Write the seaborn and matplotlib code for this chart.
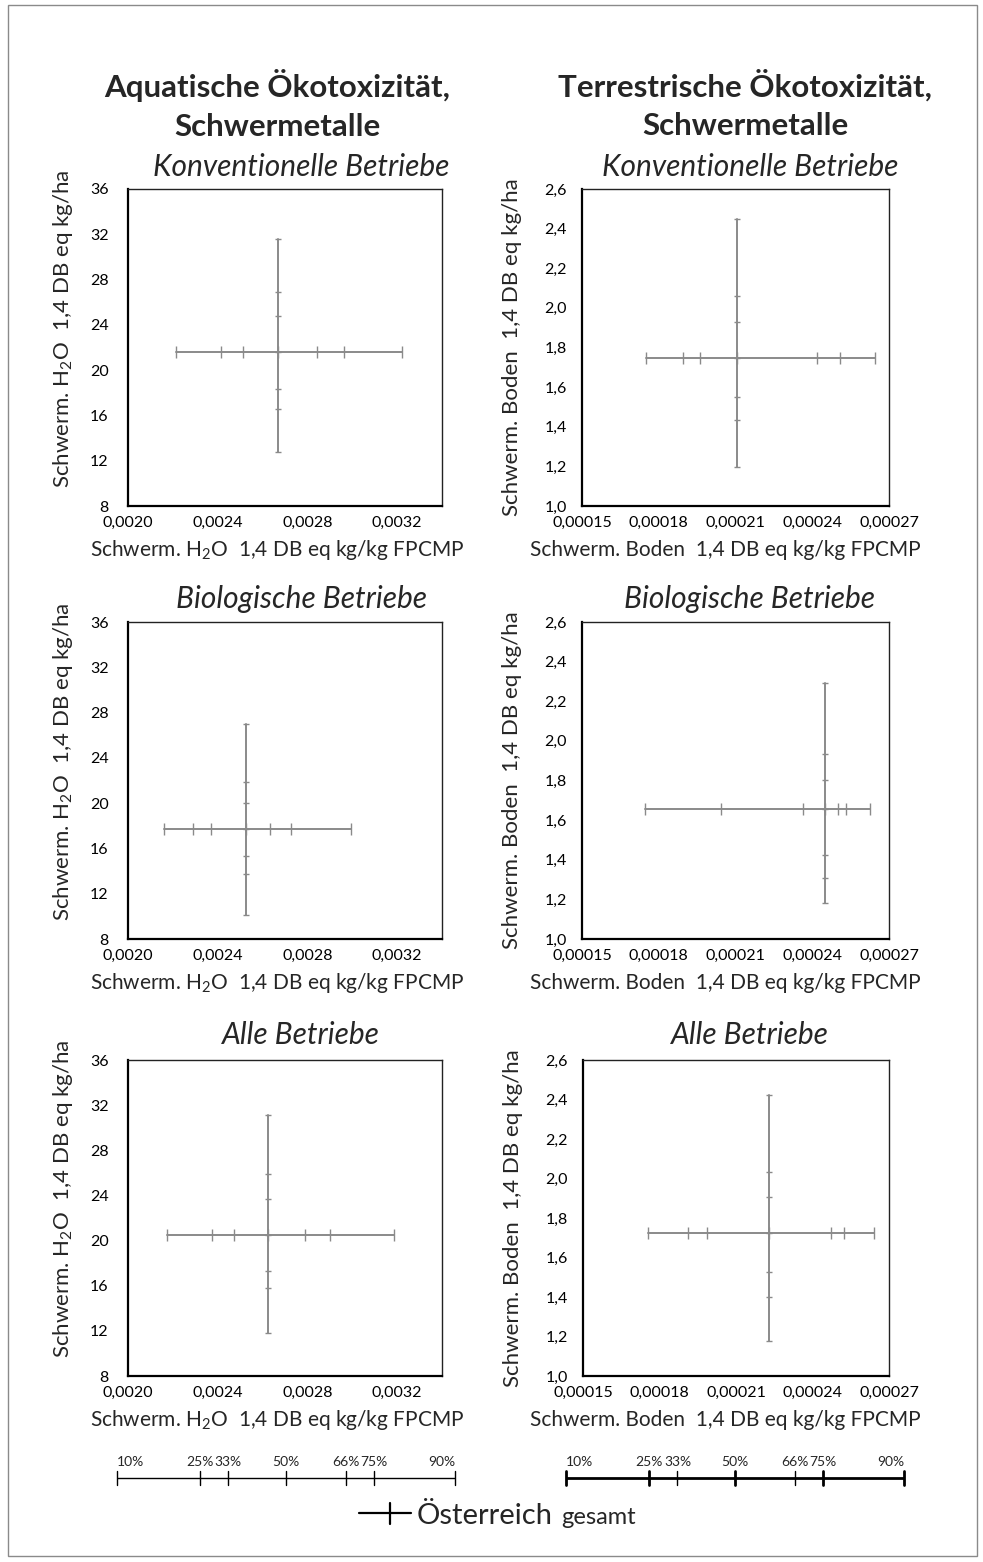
import matplotlib
matplotlib.use('Agg')
from matplotlib import pyplot as plt
from matplotlib.patches import Rectangle
from matplotlib.lines import Line2D
from matplotlib.ticker import FixedLocator, FuncFormatter
import seaborn as sns

# Percentiles shown on each cross (10% ... 90%), the 4th value is the median / centre
pct_labels = ['10%', '25%', '33%', '50%', '66%', '75%', '90%']

# Aquatische Oekotoxizitaet (x: kg/kg FPCMP, y: kg/ha)
aq_konv_x = [0.002213, 0.002413, 0.002512, 0.002670, 0.002842, 0.002961, 0.003221]
aq_konv_y = [12.8, 16.6, 18.3, 21.6, 24.8, 26.9, 31.6]
aq_bio_x = [0.002161, 0.002292, 0.002369, 0.002525, 0.002633, 0.002726, 0.002994]
aq_bio_y = [10.1, 13.7, 15.3, 17.7, 20.0, 21.9, 27.0]
aq_alle_x = [0.002173, 0.002374, 0.002472, 0.002622, 0.002789, 0.002900, 0.003184]
aq_alle_y = [11.8, 15.8, 17.3, 20.5, 23.7, 25.9, 31.1]

# Terrestrische Oekotoxizitaet
te_konv_x = [0.0001752, 0.0001893, 0.0001962, 0.0002107, 0.0002418, 0.0002508, 0.0002645]
te_konv_y = [1.199, 1.434, 1.552, 1.748, 1.931, 2.062, 2.449]
te_bio_x = [0.0001748, 0.0002044, 0.0002365, 0.0002449, 0.0002501, 0.0002531, 0.0002625]
te_bio_y = [1.180, 1.309, 1.424, 1.657, 1.805, 1.933, 2.292]
te_alle_x = [0.0001755, 0.0001913, 0.0001987, 0.0002228, 0.0002474, 0.0002522, 0.0002641]
te_alle_y = [1.177, 1.400, 1.525, 1.726, 1.906, 2.034, 2.421]

# Axis ticks
aq_xticks = [0.0020, 0.0024, 0.0028, 0.0032]
aq_yticks = [8, 12, 16, 20, 24, 28, 32, 36]
te_xticks = [0.00015, 0.00018, 0.00021, 0.00024, 0.00027]
te_yticks = [1.0, 1.2, 1.4, 1.6, 1.8, 2.0, 2.2, 2.4, 2.6]

# Relative positions of the percentiles on the key scale
scale_pos = [0.0, 0.245, 0.33, 0.50, 0.678, 0.76, 1.0]

titles = ['Aquatische Ökotoxizität,\nSchwermetalle', 'Terrestrische Ökotoxizität,\nSchwermetalle']
subtitles = ['Konventionelle Betriebe', 'Biologische Betriebe', 'Alle Betriebe']

sns.set_style('white')
plt.rcParams['font.family'] = ['Lato', 'DejaVu Sans']
plt.rcParams['mathtext.fontset'] = 'custom'
plt.rcParams['mathtext.rm'] = 'Lato'

W, H = 983, 1562
GREY = '#8a8a8a'


def px_rect(l, t, r, b):
    return [l / W, 1 - b / H, (r - l) / W, (b - t) / H]


def draw_cross(ax, xs, ys):
    xc, yc = xs[3], ys[3]
    sns.lineplot(x=xs, y=[yc] * len(xs), ax=ax, color=GREY, lw=1.4, marker='|',
                 markersize=8, mew=1.0, mec=GREY, estimator=None, sort=False)
    sns.lineplot(x=[xc] * len(ys), y=ys, ax=ax, color=GREY, lw=1.4, marker='_',
                 markersize=5, mew=1.0, mec=GREY, estimator=None, sort=False)


def style_axes(ax, aquatic):
    if aquatic:
        ax.set_xlim(0.0020, 0.0034)
        ax.set_ylim(8, 36)
        ax.xaxis.set_major_locator(FixedLocator(aq_xticks))
        ax.yaxis.set_major_locator(FixedLocator(aq_yticks))
        ax.xaxis.set_major_formatter(FuncFormatter(lambda v, p: f'{v:.4f}'.replace('.', ',')))
        ax.yaxis.set_major_formatter(FuncFormatter(lambda v, p: f'{v:.0f}'))
        ax.set_xlabel('Schwerm. H$_2$O  1,4 DB eq kg/kg FPCMP', fontsize=15, va='center')
        ax.set_ylabel('Schwerm. H$_2$O  1,4 DB eq kg/ha', fontsize=16, va='center')
        ax.xaxis.set_label_coords(0.475, -0.139)
        ax.yaxis.set_label_coords(-0.207, 0.56)
        ypad = 14
    else:
        ax.set_xlim(0.00015, 0.00027)
        ax.set_ylim(1.0, 2.6)
        ax.xaxis.set_major_locator(FixedLocator(te_xticks))
        ax.yaxis.set_major_locator(FixedLocator(te_yticks))
        ax.xaxis.set_major_formatter(FuncFormatter(lambda v, p: f'{v:.5f}'.replace('.', ',')))
        ax.yaxis.set_major_formatter(FuncFormatter(lambda v, p: f'{v:.1f}'.replace('.', ',')))
        ax.set_xlabel('Schwerm. Boden  1,4 DB eq kg/kg FPCMP', fontsize=15, va='center')
        ax.set_ylabel('Schwerm. Boden  1,4 DB eq kg/ha', fontsize=16, va='center')
        ax.xaxis.set_label_coords(0.466, -0.139)
        ax.yaxis.set_label_coords(-0.228, 0.5)
        ypad = 11
    ax.tick_params(axis='both', length=0, labelsize=11.5, colors='black')
    ax.tick_params(axis='x', pad=7)
    ax.tick_params(axis='y', pad=ypad)
    for side in ['left', 'bottom']:
        ax.spines[side].set_linewidth(1.6)
        ax.spines[side].set_color('black')
    for side in ['top', 'right']:
        ax.spines[side].set_linewidth(1.0)
        ax.spines[side].set_color('#222222')
    ax.grid(False)


fig = plt.figure(figsize=(W / 100, H / 100), dpi=100)

# Outer frame
fig.add_artist(Rectangle((8 / W, 1 - 1556 / H), 969 / W, 1551 / H, transform=fig.transFigure,
                         fill=False, edgecolor='#8a8a8a', lw=1.0))

boxes_left = [(128, 189, 442, 506), (128, 622, 442, 939), (128, 1060, 442, 1376)]
boxes_right = [(582, 189, 889, 506), (582, 622, 889, 939), (583, 1060, 889, 1376)]
aq_data = [(aq_konv_x, aq_konv_y), (aq_bio_x, aq_bio_y), (aq_alle_x, aq_alle_y)]
te_data = [(te_konv_x, te_konv_y), (te_bio_x, te_bio_y), (te_alle_x, te_alle_y)]

for i in range(3):
    ax = fig.add_axes(px_rect(*boxes_left[i]))
    draw_cross(ax, *aq_data[i])
    style_axes(ax, aquatic=True)

    ax = fig.add_axes(px_rect(*boxes_right[i]))
    draw_cross(ax, *te_data[i])
    style_axes(ax, aquatic=False)

# Titles
fig.text(277 / W, 1 - 105 / H, titles[0], ha='center', va='center', fontsize=22.5,
         fontweight='bold', linespacing=1.45)
fig.text(745 / W, 1 - 105 / H, titles[1], ha='center', va='center', fontsize=22.5,
         fontweight='bold', linespacing=1.45)

# Subtitles
sub_y = [167, 599, 1035]
for y, s in zip(sub_y, subtitles):
    fig.text(301 / W, 1 - y / H, s, ha='center', va='center', fontsize=21.5, fontstyle='italic')
    fig.text(750 / W, 1 - y / H, s, ha='center', va='center', fontsize=21.5, fontstyle='italic')

# Percentile key scales
for left, thick in [(116.7, False), (565.8, True)]:
    sax = fig.add_axes(px_rect(left, 1448, left + 338.4, 1490))
    sax.set_xlim(0, 1)
    sax.set_ylim(-12, 30)
    sax.axis('off')
    sax.plot([scale_pos[0], scale_pos[-1]], [0, 0], color='black', lw=2.0 if thick else 1.0,
             solid_capstyle='butt', clip_on=False)
    for j, (p, lab) in enumerate(zip(scale_pos, pct_labels)):
        major = thick and lab in ('10%', '25%', '50%', '75%', '90%')
        sax.plot([p, p], [-7, 7], color='black', lw=2.0 if major else 1.0, clip_on=False)
        ha = 'left' if j == 0 else ('right' if j == len(scale_pos) - 1 else 'center')
        sax.text(p, 16, lab, ha=ha, va='center', fontsize=10)

# Legend key
fig.add_artist(Line2D([359 / W, 411 / W], [1 - 1513 / H, 1 - 1513 / H], color='black', lw=1.6,
                      transform=fig.transFigure))
fig.add_artist(Line2D([390 / W, 390 / W], [1 - 1503 / H, 1 - 1524 / H], color='black', lw=1.6,
                      transform=fig.transFigure))
t1 = fig.text(417 / W, 1 - 1524 / H, 'Österreich', ha='left', va='baseline', fontsize=21)
fig.canvas.draw()
bb = t1.get_window_extent()
fig.text((bb.x1 + 8) / W, 1 - 1524 / H, 'gesamt', ha='left', va='baseline', fontsize=17)

fig.savefig('out.png', dpi=100)
plt.close()
